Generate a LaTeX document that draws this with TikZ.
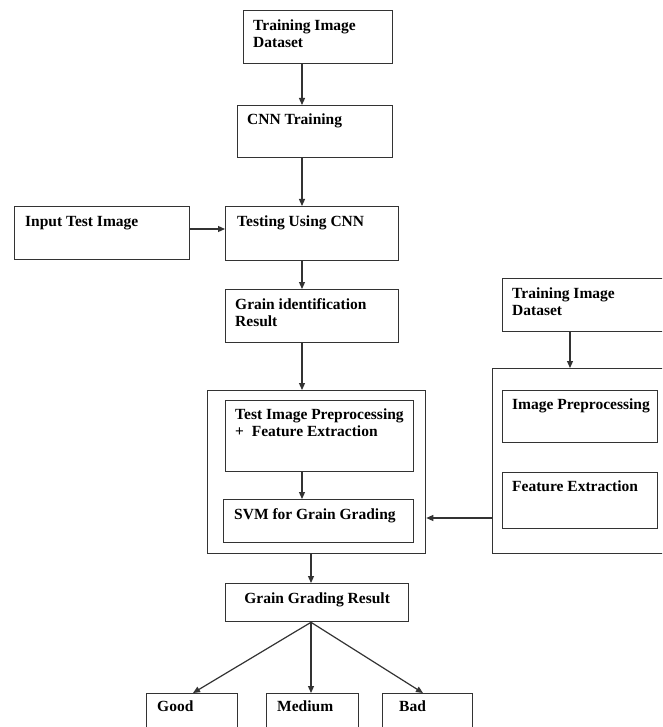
\documentclass[tikz,border=0pt]{standalone}
\usepackage{fontspec}
\setmainfont{Liberation Serif}
\usetikzlibrary{arrows.meta}
\definecolor{edge}{HTML}{333333}
\tikzset{
  box/.style={draw=edge, line width=1.3pt, anchor=north west, inner sep=0pt, fill=white},
  lbl/.style={anchor=north west, inner sep=0pt, font=\bfseries\fontsize{15.5}{17}\selectfont, align=left, text=black},
  arr/.style={draw=edge, line width=1.2pt, -{Triangle[length=7pt,width=6pt]}},
  ln/.style={draw=edge, line width=1.2pt}
}
\begin{document}
\begin{tikzpicture}[x=1pt,y=-1pt]
\useasboundingbox (0,0) rectangle (662,727);
\clip (0,0) rectangle (662,727);
% left column
\node[box, minimum width=149pt, minimum height=53pt] (d1) at (243,10) {};
\node[lbl] (d1t) at ([shift={(10pt,-10pt)}]d1.north west) {Training Image\\Dataset};
\node[box, minimum width=155pt, minimum height=52pt] (cnn) at (237,105) {};
\node[lbl] (cnnt) at ([shift={(10pt,-9pt)}]cnn.north west) {CNN Training};
\node[box, minimum width=175pt, minimum height=53pt] (inp) at (14,206) {};
\node[lbl] (inpt) at ([shift={(11pt,-10pt)}]inp.north west) {Input Test Image};
\node[box, minimum width=173pt, minimum height=54pt] (tst) at (225,206) {};
\node[lbl] (tstt) at ([shift={(12pt,-10pt)}]tst.north west) {Testing Using CNN};
\node[box, minimum width=173pt, minimum height=53pt] (gid) at (225,289) {};
\node[lbl] (gidt) at ([shift={(10pt,-9pt)}]gid.north west) {Grain identification\\Result};
% left container
\node[box, minimum width=218pt, minimum height=163pt] (cl) at (207,390) {};
\node[box, minimum width=188pt, minimum height=71pt] (pre) at (225,400) {};
\node[lbl] (pret) at ([shift={(10pt,-9pt)}]pre.north west) {Test Image Preprocessing\\+\ \ Feature Extraction};
\node[box, minimum width=190pt, minimum height=43pt] (svm) at (223,499) {};
\node[lbl] (svmt) at ([shift={(11pt,-9pt)}]svm.north west) {SVM for Grain Grading};
% right column
\node[box, minimum width=180pt, minimum height=53pt] (d2) at (502,278) {};
\node[lbl] (d2t) at ([shift={(10pt,-10pt)}]d2.north west) {Training Image\\Dataset};
\node[box, minimum width=190pt, minimum height=185pt] (cr) at (492,368) {};
\node[box, minimum width=155pt, minimum height=52pt] (ipp) at (502,390) {};
\node[lbl] (ippt) at ([shift={(10pt,-9pt)}]ipp.north west) {Image Preprocessing};
\node[box, minimum width=155pt, minimum height=56pt] (fe) at (502,472) {};
\node[lbl] (fet) at ([shift={(10pt,-9pt)}]fe.north west) {Feature Extraction};
% result
\node[box, minimum width=183pt, minimum height=38pt] (ggr) at (225,583) {};
\node[lbl, anchor=north] (ggrt) at ([yshift=-10pt]ggr.north) {Grain Grading Result};
\node[box, minimum width=91pt, minimum height=50pt] (good) at (146,693) {};
\node[lbl] (goodt) at ([shift={(11pt,-8pt)}]good.north west) {Good};
\node[box, minimum width=92pt, minimum height=50pt] (med) at (266,693) {};
\node[lbl] (medt) at ([shift={(11pt,-8pt)}]med.north west) {Medium};
\node[box, minimum width=90pt, minimum height=50pt] (bad) at (382,693) {};
\node[lbl] (badt) at ([shift={(17pt,-8pt)}]bad.north west) {Bad};
% axes
\coordinate (ax) at (302,0);
\coordinate (bx) at (311,0);
\coordinate (rx) at (570,0);
\coordinate (hy) at (0,229);
\coordinate (ry) at (0,518);
\coordinate (gx) at (193,0);
\coordinate (kx) at (423,0);
% connectors
\draw[arr] (d1.south -| ax) -- (cnn.north -| ax);
\draw[arr] (cnn.south -| ax) -- (tst.north -| ax);
\draw[arr] (inp.east |- hy) -- (tst.west |- hy);
\draw[arr] (tst.south -| ax) -- (gid.north -| ax);
\draw[arr] (gid.south -| ax) -- (cl.north -| ax);
\draw[arr] (pre.south -| ax) -- (svm.north -| ax);
\draw[arr] (d2.south -| rx) -- (cr.north -| rx);
\draw[arr] (cr.west |- ry) -- (cl.east |- ry);
\draw[arr] (cl.south -| bx) -- (ggr.north -| bx);
\draw[arr] (ggr.south -| bx) -- (good.north -| gx);
\draw[arr] (ggr.south -| bx) -- (med.north -| bx);
\draw[arr] (ggr.south -| bx) -- (bad.north -| kx);
\end{tikzpicture}
\end{document}
